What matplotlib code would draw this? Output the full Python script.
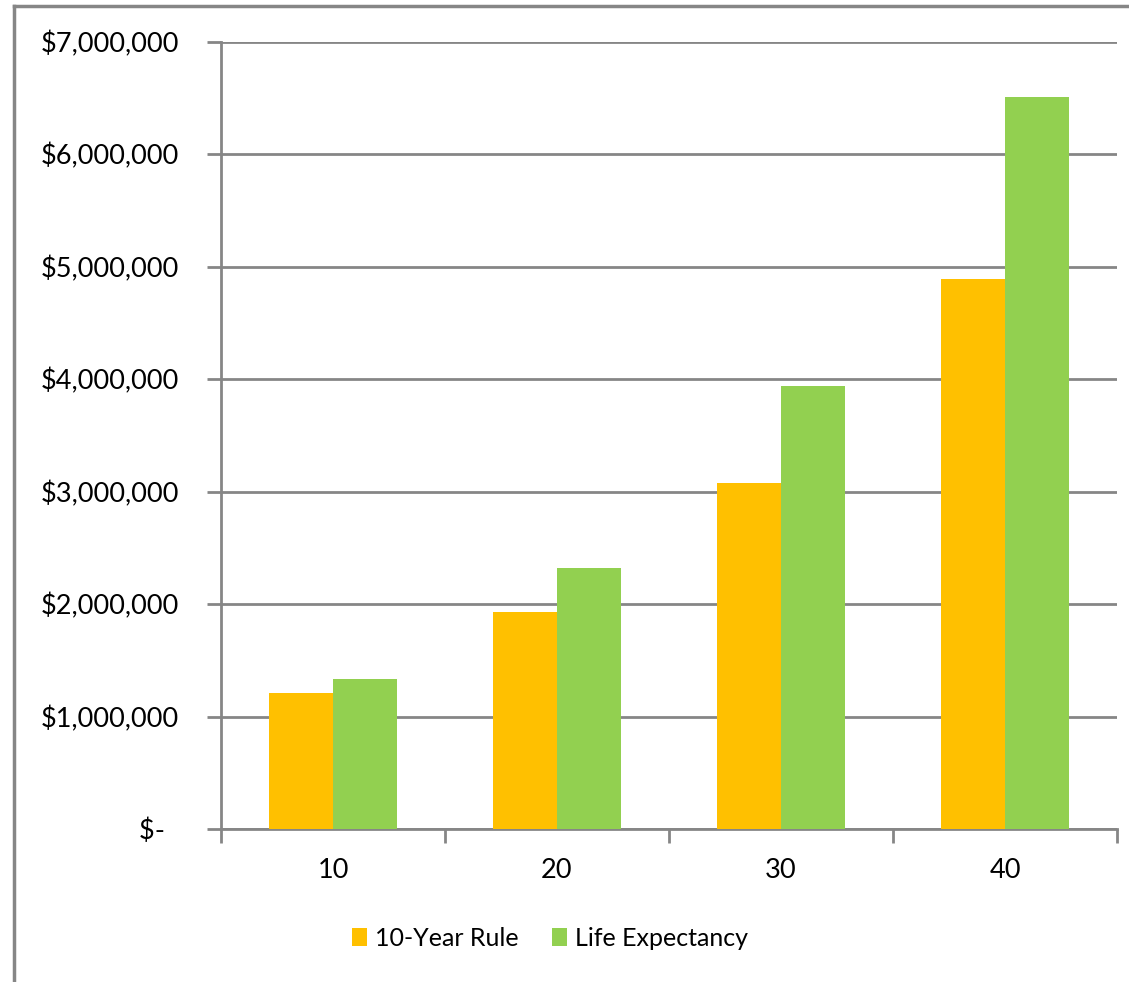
import matplotlib.pyplot as plt
from matplotlib.lines import Line2D
from matplotlib.ticker import FuncFormatter

# data
years = ['10', '20', '30', '40']
ten_year_rule = [1210000, 1930000, 3075000, 4890000]
life_expectancy = [1335000, 2320000, 3940000, 6505000]

orange = '#FFC000'
green = '#92D050'
grey = '#868686'

plt.rcParams['font.family'] = ['Lato', 'DejaVu Sans']

fig = plt.figure(figsize=(11.29, 9.82), dpi=100)
ax = fig.add_axes([221 / 1129, 1 - 829 / 982, (1117 - 221) / 1129, (829 - 41.7) / 982])

x = list(range(len(years)))
w = 0.2857
ax.bar([i - w / 2 for i in x], ten_year_rule, width=w, color=orange, label='10-Year Rule', zorder=3)
ax.bar([i + w / 2 for i in x], life_expectancy, width=w, color=green, label='Life Expectancy', zorder=3)

ax.set_xlim(-0.5, len(years) - 0.5)
ax.set_ylim(0, 7000000)
ax.set_yticks(range(0, 7000001, 1000000))


def money(v, pos):
    if v == 0:
        return '$-  '
    return '${:,.0f}'.format(v)


ax.yaxis.set_major_formatter(FuncFormatter(money))
ax.set_xticks(x)
ax.set_xticklabels(years)
ax.set_xticks([i - 0.5 for i in range(len(years) + 1)], minor=True)
ax.tick_params(axis='x', which='major', length=0, pad=21, labelsize=19.5, labelcolor='#000000')
ax.tick_params(axis='x', which='minor', length=10, width=2, color=grey, direction='out')
ax.tick_params(axis='y', length=10, width=2, color=grey, pad=20, labelsize=19.5)

ax.grid(axis='y', color=grey, linewidth=2, zorder=0)
for s in ['top', 'right']:
    ax.spines[s].set_visible(False)
for s in ['left', 'bottom']:
    ax.spines[s].set_color(grey)
    ax.spines[s].set_linewidth(2)

ax.legend(loc='center', bbox_to_anchor=(550 / 1129, 1 - 938 / 982), bbox_transform=fig.transFigure,
          ncol=2, frameon=False, fontsize=18, handlelength=0.6, handleheight=0.7,
          handletextpad=0.35, columnspacing=1.3)

# outer chart frame (left and top edges visible)
fig.add_artist(Line2D([13.5 / 1129, 13.5 / 1129], [0, 1 - 6 / 982], color=grey, linewidth=2.5,
                      transform=fig.transFigure))
fig.add_artist(Line2D([13.5 / 1129, 1], [1 - 6 / 982, 1 - 6 / 982], color=grey, linewidth=2.5,
                      transform=fig.transFigure))

fig.savefig('out.png', dpi=100)
